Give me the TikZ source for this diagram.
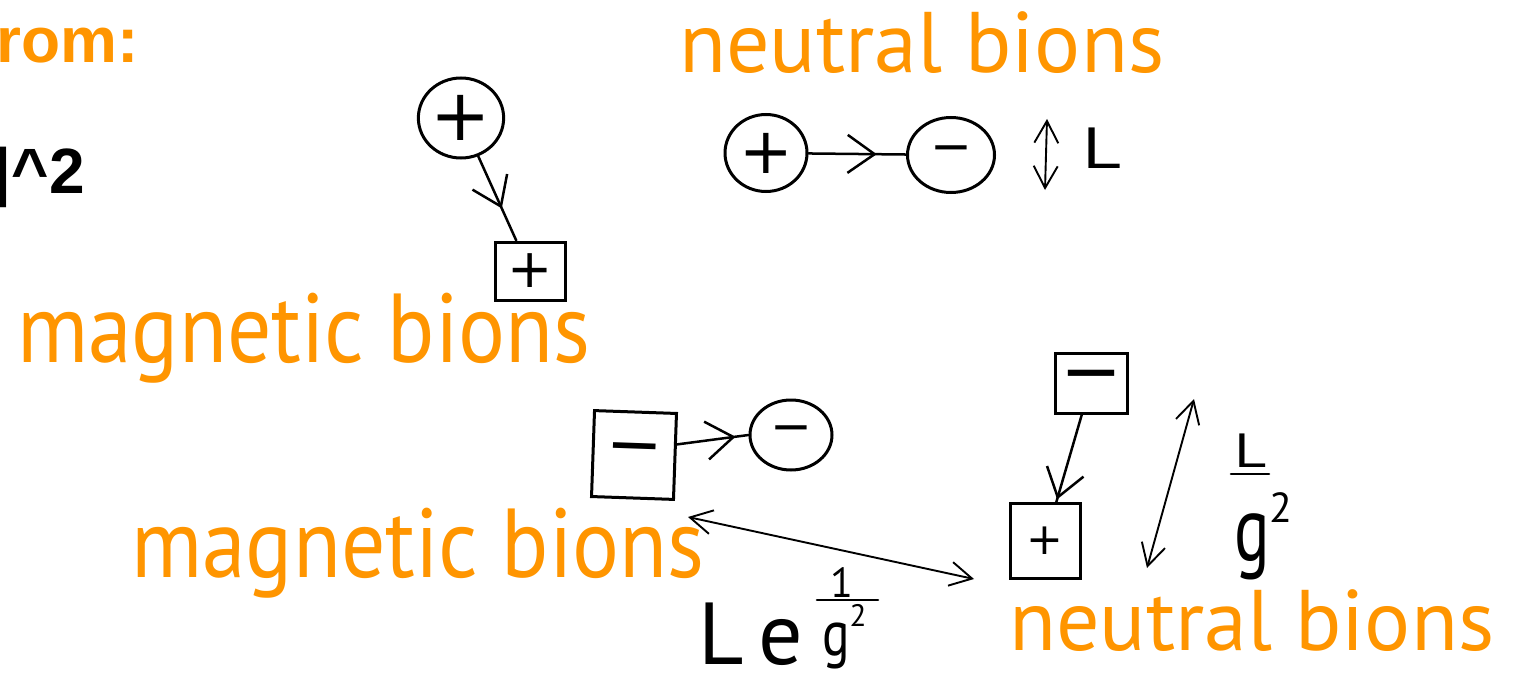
\RequirePackage{fix-cm}
\documentclass[tikz,border=0pt]{standalone}
\usepackage{fontspec}
\setmainfont{PT Sans}
\newfontfamily\helv{Liberation Sans}
\newfontfamily\signfont{DejaVu Sans}
\usetikzlibrary{arrows.meta,decorations.markings,shapes.geometric}
\definecolor{keyorange}{RGB}{255,149,0}
\newcommand{\sz}[1]{\fontsize{#1}{#1}\selectfont}
\newcommand{\plussign}{{\signfont +}}
\newcommand{\minussign}{{\signfont \symbol{"2212}}}
\begin{document}
\begin{tikzpicture}[x=1pt,y=-1pt,
  orangelabel/.style={text=keyorange, inner sep=0, anchor=base west},
  ink/.style={draw=black, line width=3pt},
  particle/.style={ellipse, ink, inner sep=0},
  chargebox/.style={rectangle, ink, inner sep=0},
  link/.style={line width=2.5pt, line cap=round},
  fracbar/.style={line width=2.6pt, line cap=round},
  midarrow/.style={decoration={markings, mark=at position #1 with {\arrow{Straight Barb[length=27pt,width=38pt,line width=2.5pt]}}}, postaction={decorate}},
  dblarrow/.style={line width=1.9pt, line cap=round, {Straight Barb[length=22pt,width=24pt,line width=1.9pt]}-{Straight Barb[length=22pt,width=24pt,line width=1.9pt]}},
  handtext/.style={inner sep=0, text=black}
]
\useasboundingbox (0,0) rectangle (1515,674);
\clip (0,0) rectangle (1515,674);

% orange / black header texts (cut at the left edge as in the reference)
\node[orangelabel, font=\helv\bfseries\sz{64}] (fromlbl) at (-4,63) {rom:};
\node[anchor=base east, inner sep=0, font=\helv\bfseries\sz{64}] (sqlbl) at (85,193) {|\textasciicircum 2};

\node[orangelabel, font=\sz{86}] (ntop) at (679,73) {neutral bions};
\node[orangelabel, font=\sz{98}] (mtop) at (17,362) {\scalebox{0.895}[1]{magnetic bions}};
\node[orangelabel, font=\sz{98}] (mbot) at (131,577) {\scalebox{0.895}[1]{magnetic bions}};
\node[orangelabel, font=\sz{86}] (nbot) at (1009,650) {neutral bions};

% top-left pair
\node[particle, minimum width=82pt, minimum height=80pt, font=\sz{72}] (A) at (461,118) {\plussign};
\node[chargebox, minimum width=70pt, minimum height=58pt, font=\sz{54}] (B) at (530,271) {\plussign};
\draw[link, midarrow=0.62] (A) -- (B);

% top-right pair
\node[particle, minimum width=82pt, minimum height=77pt, font=\sz{64}] (C) at (766,153) {\plussign};
\node[particle, minimum width=87pt, minimum height=75pt, font=\sz{50}] (D) at (951,155) {\minussign};
\draw[link, midarrow=0.7] (C) -- (D);
\coordinate (Lt1) at (1047,119);
\coordinate (Lt2) at (1045,190);
\draw[dblarrow] (Lt1) -- (Lt2);
\node[handtext, font=\sz{58}, anchor=base west] (Ltop) at (1082,168) {\scalebox{1.3}[1]{L}};

% bottom-left pair
\node[chargebox, minimum width=82pt, minimum height=86pt, rotate=-2, font=\sz{68}] (E) at (634,455) {\minussign};
\node[particle, minimum width=82pt, minimum height=70pt, font=\sz{50}] (F) at (791,435) {\minussign};
\draw[link, midarrow=0.82] ([yshift=12pt]E.east) -- (F.west);

% bottom-right pair
\node[chargebox, minimum width=72pt, minimum height=60pt, font=\sz{74}] (G) at (1091,383) {\minussign};
\node[chargebox, minimum width=70pt, minimum height=75pt, font=\sz{44}] (H) at (1045,541) {\plussign};
\draw[link, midarrow=0.97] (G) -- (H);
\coordinate (Lg1) at (1194,399);
\coordinate (Lg2) at (1147,568);
\draw[dblarrow] (Lg1) -- (Lg2);

% L / g^2
\node[handtext, font=\sz{48}, anchor=base] (Lnum) at (1251,467) {\scalebox{1.3}[1]{L}};
\coordinate (barL1) at (1231,474);
\coordinate (barL2) at (1269,474);
\draw[fracbar] (barL1) -- (barL2);
\node[handtext, anchor=base west] (gden) at (1234,560) {\scalebox{0.72}[1]{\sz{92}g}\raisebox{38pt}{\sz{42}2}};

% long separation arrow
\coordinate (Ls1) at (688,517);
\coordinate (Ls2) at (974,579);
\draw[dblarrow] (Ls1) -- (Ls2);

% L e^{1/g^2}
\node[handtext, font=\sz{88}, anchor=base west] (Le) at (698,664) {L\,e};
\node[handtext, font=\sz{42}, anchor=base] (expnum) at (842,597) {1};
\coordinate (barE1) at (817,600);
\coordinate (barE2) at (878,600);
\draw[fracbar] (barE1) -- (barE2);
\node[handtext, anchor=base west] (expden) at (822,655) {\scalebox{0.8}[1]{\sz{64}g}\raisebox{29pt}{\sz{31}2}};
\end{tikzpicture}
\end{document}
